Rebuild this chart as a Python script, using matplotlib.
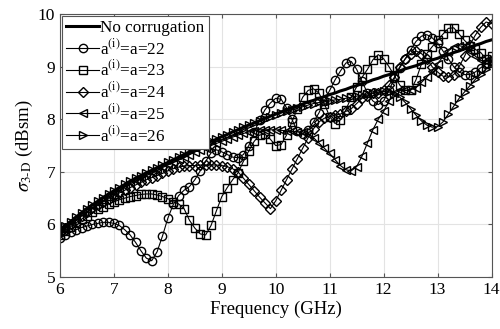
import numpy as np
import matplotlib
matplotlib.use('Agg')
import matplotlib.pyplot as plt

plt.rcParams['font.family'] = ['Liberation Serif', 'DejaVu Serif']
plt.rcParams['mathtext.fontset'] = 'stix'

# frequency points (GHz), one every 0.1 GHz
freq = np.round(np.arange(6.0, 14.01, 0.1), 1)

no_corr = [5.88, 5.97, 6.05, 6.14, 6.22, 6.30, 6.37, 6.44, 6.51, 6.58,
           6.64, 6.70, 6.76, 6.82, 6.88, 6.93, 6.98, 7.03, 7.08, 7.13,
           7.18, 7.23, 7.28, 7.33, 7.38, 7.43, 7.48, 7.53, 7.58, 7.62,
           7.67, 7.71, 7.76, 7.80, 7.85, 7.89, 7.93, 7.97, 8.02, 8.06,
           8.10, 8.14, 8.18, 8.22, 8.25, 8.29, 8.33, 8.36, 8.40, 8.43,
           8.47, 8.50, 8.54, 8.57, 8.61, 8.64, 8.68, 8.71, 8.75, 8.78,
           8.82, 8.85, 8.89, 8.92, 8.96, 8.99, 9.02, 9.06, 9.09, 9.13,
           9.16, 9.20, 9.23, 9.27, 9.30, 9.34, 9.37, 9.41, 9.44, 9.48,
           9.51]

a22 = [5.75, 5.80, 5.85, 5.90, 5.94, 5.97, 6.00, 6.02, 6.04, 6.04,
       6.02, 5.98, 5.90, 5.80, 5.66, 5.50, 5.36, 5.31, 5.48, 5.78,
       6.12, 6.38, 6.55, 6.65, 6.72, 6.85, 7.02, 7.20, 7.36, 7.42,
       7.38, 7.33, 7.28, 7.27, 7.33, 7.50, 7.75, 7.99, 8.18, 8.31,
       8.40, 8.38, 8.22, 8.00, 7.77, 7.72, 7.80, 7.95, 8.12, 8.35,
       8.55, 8.75, 8.92, 9.07, 9.10, 8.95, 8.72, 8.50, 8.35, 8.28,
       8.35, 8.55, 8.78, 8.98, 9.15, 9.32, 9.48, 9.58, 9.61, 9.55,
       9.45, 9.30, 9.15, 9.00, 8.90, 8.85, 8.85, 8.90, 8.98, 9.05,
       9.10]

a23 = [5.80, 5.88, 5.96, 6.03, 6.10, 6.17, 6.23, 6.29, 6.34, 6.39,
       6.43, 6.47, 6.50, 6.53, 6.55, 6.57, 6.58, 6.58, 6.56, 6.53,
       6.49, 6.43, 6.39, 6.30, 6.08, 5.93, 5.82, 5.80, 5.98, 6.26,
       6.53, 6.70, 6.85, 6.98, 7.20, 7.40, 7.58, 7.70, 7.72, 7.62,
       7.50, 7.52, 7.70, 7.95, 8.20, 8.42, 8.55, 8.58, 8.50, 8.30,
       8.05, 7.92, 7.99, 8.18, 8.42, 8.62, 8.80, 8.95, 9.13, 9.23,
       9.15, 9.00, 8.83, 8.65, 8.55, 8.55, 8.75, 9.05, 9.25, 9.38,
       9.50, 9.62, 9.73, 9.74, 9.62, 9.50, 9.40, 9.33, 9.27, 9.15,
       9.20]

a24 = [5.85, 5.93, 6.01, 6.09, 6.17, 6.24, 6.31, 6.37, 6.43, 6.49,
       6.55, 6.60, 6.65, 6.70, 6.75, 6.80, 6.85, 6.89, 6.93, 6.97,
       7.02, 7.06, 7.09, 7.11, 7.12, 7.12, 7.13, 7.13, 7.13, 7.13,
       7.12, 7.10, 7.06, 7.00, 6.88, 6.76, 6.64, 6.52, 6.41, 6.30,
       6.45, 6.65, 6.85, 7.05, 7.25, 7.45, 7.65, 7.82, 7.95, 8.02,
       8.05, 8.08, 8.10, 8.15, 8.20, 8.30, 8.40, 8.45, 8.50, 8.50,
       8.55, 8.65, 8.80, 9.00, 9.15, 9.25, 9.30, 9.25, 9.15, 9.00,
       8.90, 8.82, 8.80, 8.85, 9.00, 9.20, 9.42, 9.60, 9.75, 9.85,
       9.82]

a25 = [5.87, 5.96, 6.04, 6.13, 6.21, 6.29, 6.36, 6.43, 6.50, 6.56,
       6.62, 6.68, 6.74, 6.80, 6.85, 6.90, 6.95, 7.00, 7.05, 7.10,
       7.15, 7.19, 7.24, 7.29, 7.33, 7.38, 7.42, 7.46, 7.50, 7.54,
       7.58, 7.62, 7.66, 7.70, 7.73, 7.76, 7.78, 7.80, 7.80, 7.80,
       7.80, 7.79, 7.78, 7.77, 7.76, 7.76, 7.72, 7.65, 7.55, 7.45,
       7.35, 7.23, 7.12, 7.04, 7.02, 7.10, 7.30, 7.55, 7.80, 8.00,
       8.15, 8.35, 8.50, 8.55, 8.55, 8.56, 8.60, 8.70, 8.80, 8.92,
       9.05, 9.20, 9.30, 9.38, 9.40, 9.38, 9.30, 9.20, 9.12, 9.10,
       9.12]

a26 = [5.88, 5.97, 6.05, 6.14, 6.22, 6.30, 6.37, 6.44, 6.51, 6.58,
       6.64, 6.70, 6.76, 6.82, 6.88, 6.93, 6.98, 7.03, 7.08, 7.13,
       7.18, 7.23, 7.28, 7.33, 7.38, 7.43, 7.48, 7.53, 7.58, 7.62,
       7.67, 7.71, 7.76, 7.80, 7.85, 7.89, 7.93, 7.97, 8.01, 8.05,
       8.09, 8.12, 8.15, 8.18, 8.21, 8.24, 8.27, 8.30, 8.32, 8.33,
       8.35, 8.37, 8.38, 8.40, 8.42, 8.44, 8.46, 8.48, 8.50, 8.52,
       8.53, 8.52, 8.48, 8.42, 8.32, 8.20, 8.08, 7.97, 7.89, 7.85,
       7.86, 7.95, 8.10, 8.25, 8.40, 8.52, 8.64, 8.76, 8.86, 8.96,
       9.05]

series = [a22, a23, a24, a25, a26]
sizes = ['22', '23', '24', '25', '26']
markers = ['o', 's', 'D', '<', '>']

fig = plt.figure(figsize=(5.0, 3.29), dpi=100)
ax = fig.add_axes([0.12, 0.158, 0.863, 0.799])

ax.plot(freq, no_corr, color='black', linewidth=2.2, label='No corrugation')
for vals, sz, mk in zip(series, sizes, markers):
    ms = 5.0 if mk == 'D' else 6.0
    ax.plot(freq, vals, color='black', linewidth=0.8, marker=mk, markersize=ms,
            markerfacecolor='none', markeredgewidth=1.0,
            label=r'a$^{\mathrm{(i)}}$=a=' + sz)

ax.set_xlim(6, 14)
ax.set_ylim(5, 10)
ax.set_xticks(range(6, 15))
ax.set_yticks(range(5, 11))
ax.grid(True, color='#e3e3e3', linewidth=0.8)
ax.set_axisbelow(True)
ax.tick_params(direction='in', top=True, right=True, labelsize=12.5,
               color='#555555', length=3)
for s in ax.spines.values():
    s.set_color('#555555')
    s.set_linewidth(0.8)

ax.set_xlabel('Frequency (GHz)', fontsize=13.5, labelpad=2)
ax.set_ylabel(r'$\sigma_{\mathrm{3\text{-}D}}$ (dBsm)', fontsize=13.5, labelpad=2)

leg = ax.legend(loc='upper left', fontsize=12.3, handlelength=1.9,
                handletextpad=0.1, labelspacing=0.1, borderpad=0.25,
                borderaxespad=0.12, fancybox=False, framealpha=1)
leg.get_frame().set_edgecolor('#555555')
leg.get_frame().set_linewidth(0.8)

fig.savefig('out.png', dpi=100)
